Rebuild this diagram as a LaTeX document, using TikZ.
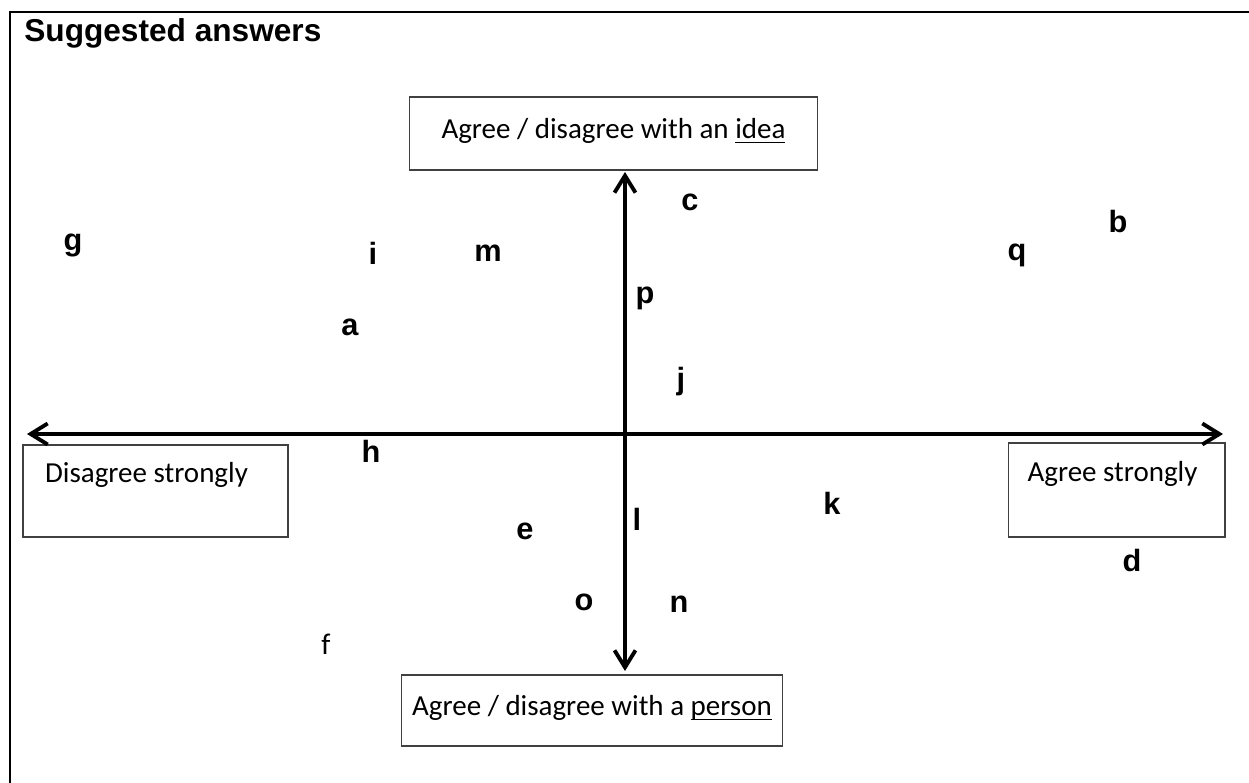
\documentclass[tikz,border=0pt]{standalone}
\usepackage{fontspec}
\setmainfont{Carlito}
\newfontfamily\arialfont{Liberation Sans}
\usetikzlibrary{arrows.meta,calc,positioning}

\newcommand{\ulword}[1]{\setbox0\hbox{#1}\rlap{\rule[-2.6pt]{\wd0}{0.8pt}}\box0}

\begin{document}
\begin{tikzpicture}[
  x=0.02cm, y=-0.02cm,
  >={Straight Barb[length=0.34cm,width=0.42cm]},
  frame/.style ={line width=1.1pt},
  axis/.style  ={line width=2.2pt,<->},
  box/.style   ={draw=black!75,line width=0.6pt,rectangle,inner sep=0pt,
                 font=\fontsize{16.5}{19}\selectfont,text height=14pt,text depth=8pt},
  sidebox/.style={box,text height=10pt,text depth=20pt},
  ans/.style   ={font=\arialfont\bfseries\fontsize{17.5}{20}\selectfont,
                 anchor=base,inner sep=0pt},
]
\useasboundingbox (0,0) rectangle (1249,783);

%% =============================================
%% Frame and heading
%% =============================================
\draw[frame] (1260,12) -| (10,800);
\node[anchor=base west,inner sep=0pt,
      font=\arialfont\bfseries\fontsize{18}{21}\selectfont] (title) at (24,42) {Suggested answers};

%% =============================================
%% Boxes at the ends of the axes
%% =============================================
\node[box,minimum width=8.18cm,minimum height=1.46cm] (idea) at (613.5,133.5)
  {Agree / disagree with an \ulword{idea}};
\node[box,minimum width=7.64cm,minimum height=1.42cm] (person) at (592,710.5)
  {Agree / disagree with a \ulword{person}};
\node[sidebox,minimum width=5.3cm,minimum height=1.84cm] (disagree) at (155.5,491)
  {Disagree strongly\hspace*{0.36cm}};
\node[sidebox,minimum width=4.34cm,minimum height=1.88cm] (agree) at (1116.5,490)
  {Agree strongly\hspace*{0.16cm}};

%% =============================================
%% Axes
%% =============================================
\coordinate (west)  at (27,434);
\coordinate (east)  at (1223,434);
\coordinate (north) at (625,172);
\coordinate (south) at (625,671);

\draw[axis] (west) -- (east);
\draw[axis] (north) -- (south);

%% =============================================
%% Answer letters
%% =============================================
\node[ans] (c) at (690,211) {c};
\node[ans] (b) at (1118,233) {b};
\node[ans] (g) at (73,251) {g};
\node[ans] (i) at (373,265) {i};
\node[ans] (m) at (488,262) {m};
\node[ans] (q) at (1017,261) {q};
\node[ans] (p) at (645,304) {p};
\node[ans] (a) at (350,336) {a};
\node[ans] (j) at (681,390) {j};
\node[ans] (h) at (371,463) {h};
\node[ans] (k) at (832,515) {k};
\node[ans] (l) at (637,531) {l};
\node[ans] (e) at (525,540) {e};
\node[ans] (d) at (1132,572) {d};
\node[ans] (o) at (584,611) {o};
\node[ans] (n) at (679,613) {n};
\node[anchor=base,inner sep=0pt,font=\fontsize{17}{20}\selectfont] (f) at (326,655) {f};

\end{tikzpicture}
\end{document}
